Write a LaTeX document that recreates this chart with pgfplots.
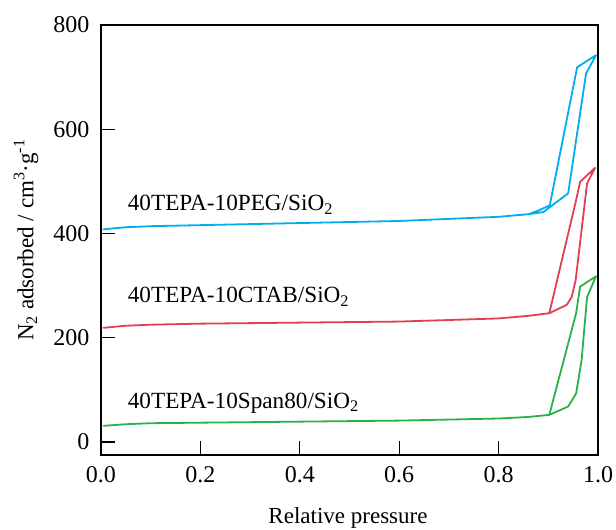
\documentclass[border=0pt]{standalone}
\usepackage{pgfplots}
\pgfplotsset{compat=1.18}
\usepackage{fontspec}
\setmainfont{Liberation Serif}
\definecolor{cblue}{RGB}{0,174,239}
\definecolor{cred}{RGB}{224,64,82}
\definecolor{cgreen}{RGB}{40,178,72}
\begin{document}
\begin{tikzpicture}
\begin{axis}[
  at={(0,0)}, anchor=south west,
  scale only axis, width=497pt, height=430pt,
  xmin=0, xmax=1, ymin=-25, ymax=800,
  xtick={0,0.2,0.4,0.6,0.8,1.0},
  ytick={0,200,400,600,800},
  xtick pos=bottom, ytick pos=left,
  tick align=inside, major tick length=14pt,
  tick style={line width=1.4pt, black},
  axis line style={line width=1.6pt, black},
  /pgf/number format/assume math mode=true,
  xticklabel={\pgfmathprintnumber[fixed,fixed zerofill,precision=1]{\tick}},
  ticklabel style={font=\fontsize{24}{28}\selectfont},
  xticklabel style={yshift=-8pt},
  yticklabel style={xshift=-8pt},
  xlabel={Relative pressure},
  ylabel={N\textsubscript{2} adsorbed / cm\textsuperscript{3}·g\textsuperscript{-1}},
  label style={font=\fontsize{23}{27}\selectfont},
  xlabel style={at={(axis description cs:0.497,-0.147)}, anchor=center},
  ylabel style={at={(axis description cs:-0.151,0.5)}, anchor=center},
  every axis plot/.append style={line join=round, line cap=round},
  clip=false,
]
% blue adsorption + desorption
\addplot[cblue, line width=1.8pt] coordinates {
(0.005,408) (0.05,412) (0.1,414) (0.2,416) (0.3,418) (0.4,420) (0.5,422) (0.6,424) (0.7,428) (0.8,432) (0.86,437) (0.89,441) (0.94,477) (0.976,707) (0.996,742)
(0.958,719) (0.903,454) (0.88,444) (0.86,437)
};
% red
\addplot[cred, line width=1.8pt] coordinates {
(0.005,219) (0.05,223) (0.1,225) (0.2,227) (0.3,228) (0.4,229) (0.5,230) (0.6,231) (0.7,234) (0.8,237) (0.86,242) (0.902,247) (0.937,263) (0.947,278) (0.955,310) (0.978,496) (0.994,526)
(0.964,499) (0.955,460) (0.902,247)
};
% green
\addplot[cgreen, line width=1.8pt] coordinates {
(0.005,31) (0.05,34) (0.1,36) (0.2,37) (0.3,38) (0.4,39) (0.5,40) (0.6,41) (0.7,43) (0.8,45) (0.86,48) (0.902,52) (0.940,68) (0.956,93) (0.967,157) (0.978,278) (0.996,318)
(0.964,298) (0.956,247) (0.902,52)
};
\node[anchor=west, font=\fontsize{23.2}{27}\selectfont] at (axis cs:0.047,455) {40TEPA-10PEG/SiO\textsubscript{2}};
\node[anchor=west, font=\fontsize{23.2}{27}\selectfont] at (axis cs:0.047,278) {40TEPA-10CTAB/SiO\textsubscript{2}};
\node[anchor=west, font=\fontsize{23.2}{27}\selectfont] at (axis cs:0.047,75) {40TEPA-10Span80/SiO\textsubscript{2}};
\end{axis}
\pgfresetboundingbox
\useasboundingbox (-101pt,-75pt) rectangle (515pt,455pt);
\end{tikzpicture}
\end{document}
